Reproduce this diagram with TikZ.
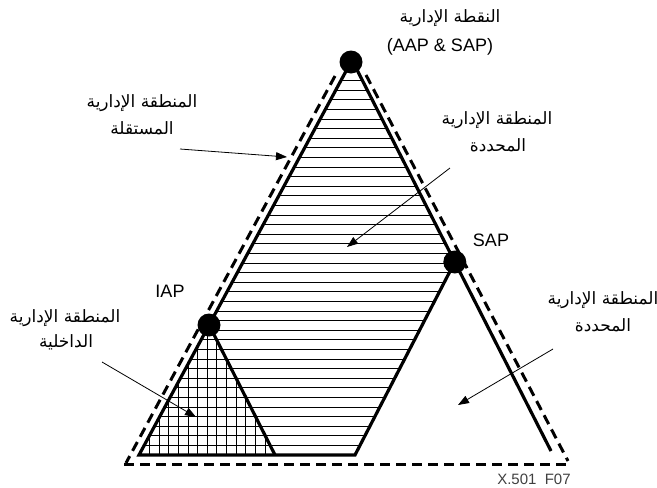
\documentclass[tikz,border=0pt]{standalone}
\usepackage{fontspec}
\setmainfont{Liberation Sans}
\newfontfamily\arabicfont[Script=Arabic]{DejaVu Sans}
\TeXXeTstate=1
\usetikzlibrary{arrows.meta}
\begin{document}
\begin{tikzpicture}[x=1pt,y=-1pt,
  solidedge/.style={line width=3.2pt, line join=miter},
  dashedge/.style={line width=3pt, dash pattern=on 10pt off 6pt},
  hatch/.style={line width=0.8pt},
  pointer/.style={line width=0.8pt, -{Triangle[length=11pt,width=8pt]}},
  dot/.style={circle, fill=black, inner sep=0pt, minimum size=23pt},
  ar/.style={font=\arabicfont\fontsize{17}{20}\selectfont, inner sep=0pt},
  lat/.style={font=\fontsize{18}{21}\selectfont, inner sep=0pt},
]
\useasboundingbox (0,0) rectangle (657,488);
\coordinate (A) at (352,60);
\coordinate (BL) at (139,455);
\coordinate (BR) at (551,451);
\coordinate (IAPc) at (209.1,325);
\coordinate (SAPc) at (454.8,262);
\coordinate (T) at (355,455);
\coordinate (G) at (275,455);
% hatching
\begin{scope}
\clip (A) -- (SAPc) -- (T) -- (BL) -- cycle;
\foreach \k in {1,...,41} \draw[hatch] (100,455-9.6*\k) -- (480,455-9.6*\k);
\end{scope}
\begin{scope}
\clip (IAPc) -- (BL) -- (G) -- cycle;
\foreach \k in {0,...,13} \draw[hatch] (149.3+9.65*\k,300) -- (149.3+9.65*\k,460);
\end{scope}
% solid outlines
\draw[solidedge] (BR) -- (A) -- (BL) -- (T) -- (SAPc);
\draw[solidedge] (IAPc) -- (G);
% dashed outer triangle
\coordinate (dl1) at (335,76); \coordinate (dl2) at (126,463);
\coordinate (dr1) at (366,75); \coordinate (dr2) at (568,461);
\coordinate (db1) at (124,464); \coordinate (db2) at (567,464);
\draw[dashedge] (dl1) -- (dl2);
\draw[dashedge] (dr1) -- (dr2);
\draw[dashedge] (db1) -- (db2);
% dots
\node[dot] (topdot) at (351,62) {};
\node[dot] (iapdot) at (209,325) {};
\node[dot] (sapdot) at (454.8,262) {};
% labels
\node[ar] (top1) at (450,18) {\beginR النقطة الإدارية\endR};
\node[lat] (top2) at (440,47) {(AAP \& SAP)};
\node[ar] (l1) at (142,103) {\beginR المنطقة الإدارية\endR};
\node[ar] (l2) at (142,128) {\beginR المستقلة\endR};
\node[ar] (m1) at (497,120) {\beginR المنطقة الإدارية\endR};
\node[ar] (m2) at (498,145) {\beginR المحددة\endR};
\node[ar] (r1) at (603,300) {\beginR المنطقة الإدارية\endR};
\node[ar] (r2) at (603,325) {\beginR المحددة\endR};
\node[ar] (b1) at (65,318) {\beginR المنطقة الإدارية\endR};
\node[ar] (b2) at (66,342) {\beginR الداخلية\endR};
\node[lat] (saplab) at (491,240) {SAP};
\node[lat] (iaplab) at (170,291) {IAP};
\node[font=\fontsize{15}{18}\selectfont, text=black!75, inner sep=0pt] (cap) at (534,479) {X.501\ \ F07};
% arrows
\coordinate (a1s) at (180,149); \coordinate (a1e) at (287,157);
\coordinate (a2s) at (450,168); \coordinate (a2e) at (347,247);
\coordinate (a3s) at (553,349); \coordinate (a3e) at (458,405);
\coordinate (a4s) at (102,362); \coordinate (a4e) at (196,417);
\draw[pointer] (a1s) -- (a1e);
\draw[pointer] (a2s) -- (a2e);
\draw[pointer] (a3s) -- (a3e);
\draw[pointer] (a4s) -- (a4e);
\end{tikzpicture}
\end{document}
